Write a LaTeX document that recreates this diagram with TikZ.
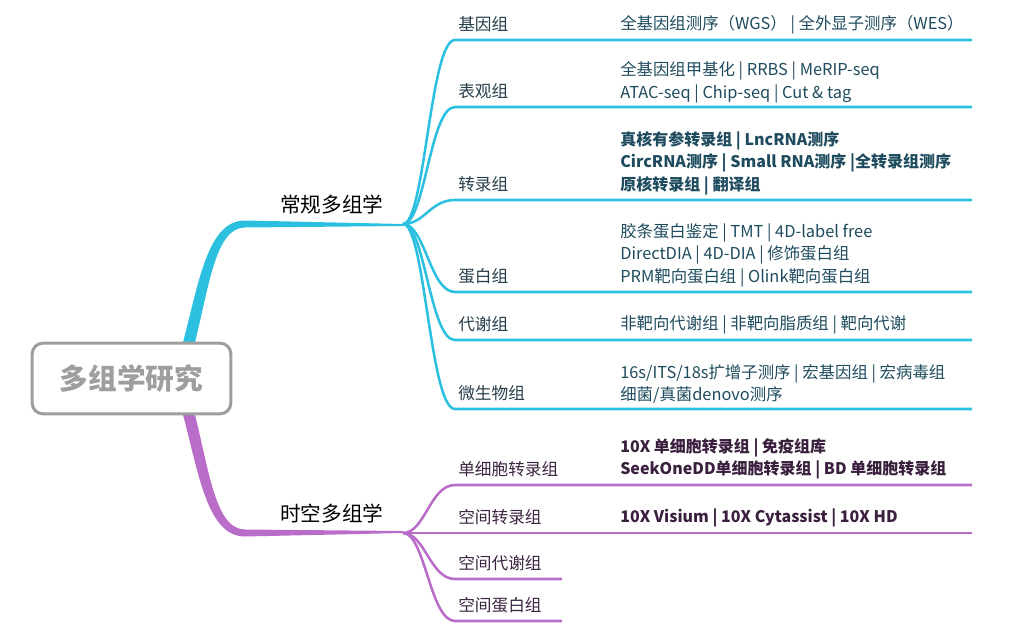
\documentclass[tikz,border=0pt]{standalone}
\usepackage{fontspec}
\setmainfont{Noto Sans CJK SC}
\usepackage{tikz}
\definecolor{cyanbr}{HTML}{2CC0E0}
\definecolor{magbr}{HTML}{B96CC8}
\definecolor{rootgray}{HTML}{9E9E9E}
\definecolor{cysub}{HTML}{263D4A}
\definecolor{cydet}{HTML}{1E4B5E}
\definecolor{mgsub}{HTML}{3B2440}
\definecolor{mgdet}{HTML}{3A1F3E}

\begin{document}
\begin{tikzpicture}[x=0.75pt,y=-0.75pt,
    rootbox/.style={draw=rootgray,line width=2.25pt,rounded corners=8pt,fill=white,
      minimum width=149pt,minimum height=53pt,text=rootgray,
      font=\fontsize{21.5}{24}\selectfont\bfseries},
    mainlbl/.style={anchor=south west,inner sep=0pt,font=\fontsize{15.5}{18}\selectfont},
    sublbl/.style={anchor=south west,inner sep=0pt,text=cysub,font=\fontsize{12.5}{15}\selectfont},
    detail/.style={anchor=south west,inner sep=0pt,align=left,text=cydet,
      font=\fontsize{12.3}{16.8}\selectfont},
    bolddet/.style={detail,font=\fontsize{12}{16.9}\selectfont\bfseries},
    cybr/.style={draw=cyanbr,line width=1.9pt},
    mgbr/.style={draw=magbr,line width=1.9pt}]
        \useasboundingbox (0,0) rectangle (1021,642);
        % trunks
        \coordinate (cfork) at (403,224);
        \coordinate (mfork) at (403,533);
        \fill [cyanbr] (182,346) .. controls (199,283) and (207,220.5) .. (245,220.5)
              -- (cfork) -- ++(0,2) -- (245,227.5) .. controls (215,227.5) and (209,288) .. (194,346) -- cycle;
        \fill [magbr] (182,411) .. controls (199,474) and (207,536.5) .. (245,536.5)
              -- (mfork) -- ++(0,-2) -- (245,529.5) .. controls (215,529.5) and (209,469) .. (194,411) -- cycle;
        \node [rootbox] (root) at (131.5,378.5) {多组学研究};
        \node [mainlbl] (conv) at (280,214) {常规多组学};
        \node [mainlbl] (spat) at (280,523) {时空多组学};
        % conventional omics
        \coordinate (genome-l) at (455,40);   \coordinate (genome-r) at (972,40);
        \coordinate (epig-l) at (455,107);    \coordinate (epig-r) at (972,107);
        \coordinate (trans-l) at (455,200);   \coordinate (trans-r) at (972,200);
        \coordinate (prot-l) at (455,292);    \coordinate (prot-r) at (972,292);
        \coordinate (metab-l) at (455,340);   \coordinate (metab-r) at (972,340);
        \coordinate (micro-l) at (455,409);   \coordinate (micro-r) at (972,409);
        \draw [cybr] (cfork) .. controls +(22,0) and +(-25,0) .. (genome-l) -- (genome-r);
        \draw [cybr] (cfork) .. controls +(22,0) and +(-25,0) .. (epig-l) -- (epig-r);
        \draw [cybr] (cfork) .. controls +(22,0) and +(-25,0) .. (trans-l) -- (trans-r);
        \draw [cybr] (cfork) .. controls +(22,0) and +(-25,0) .. (prot-l) -- (prot-r);
        \draw [cybr] (cfork) .. controls +(22,0) and +(-25,0) .. (metab-l) -- (metab-r);
        \draw [cybr] (cfork) .. controls +(22,0) and +(-25,0) .. (micro-l) -- (micro-r);
        \node [sublbl] (genome) at (458,32) {基因组};
        \node [sublbl] (epig) at (458,99) {表观组};
        \node [sublbl] (trans) at (458,192) {转录组};
        \node [sublbl] (prot) at (458,284) {蛋白组};
        \node [sublbl] (metab) at (458,332) {代谢组};
        \node [sublbl] (micro) at (458,401) {微生物组};
        \node [detail] (dgenome) at (620,34) {全基因组测序（WGS） | 全外显子测序（WES）};
        \node [detail] (depig) at (620,103) {全基因组甲基化 | RRBS | MeRIP-seq\\ATAC-seq | Chip-seq | Cut \& tag};
        \node [bolddet] (dtrans) at (620,195)
              {真核有参转录组 | LncRNA测序\\CircRNA测序 | Small RNA测序 |全转录组测序\\原核转录组 | 翻译组};
        \node [detail] (dprot) at (620,287) {胶条蛋白鉴定 | TMT | 4D-label free\\DirectDIA | 4D-DIA | 修饰蛋白组\\PRM靶向蛋白组 | Olink靶向蛋白组};
        \node [detail] (dmetab) at (620,334) {非靶向代谢组 | 非靶向脂质组 | 靶向代谢};
        \node [detail] (dmicro) at (620,404) {16s/ITS/18s扩增子测序 | 宏基因组 | 宏病毒组\\细菌/真菌denovo测序};
        % spatio-temporal omics
        \coordinate (sc-l) at (455,485);      \coordinate (sc-r) at (972,485);
        \coordinate (sptr-r) at (972,533);
        \coordinate (spmet-l) at (455,579);   \coordinate (spmet-r) at (562,579);
        \coordinate (spprot-l) at (455,621);  \coordinate (spprot-r) at (562,621);
        \draw [mgbr] (mfork) .. controls +(22,0) and +(-25,0) .. (sc-l) -- (sc-r);
        \draw [mgbr] (mfork) -- (sptr-r);
        \draw [mgbr] (mfork) .. controls +(22,0) and +(-25,0) .. (spmet-l) -- (spmet-r);
        \draw [mgbr] (mfork) .. controls +(22,0) and +(-25,0) .. (spprot-l) -- (spprot-r);
        \node [sublbl,text=mgsub] (sc) at (458,477) {单细胞转录组};
        \node [sublbl,text=mgsub] (sptr) at (458,525) {空间转录组};
        \node [sublbl,text=mgsub] (spmet) at (458,571) {空间代谢组};
        \node [sublbl,text=mgsub] (spprot) at (458,613) {空间蛋白组};
        \node [bolddet,text=mgdet,font=\fontsize{12}{16.5}\selectfont\bfseries] (dsc) at (620,479)
              {10X 单细胞转录组 | 免疫组库\\SeekOneDD单细胞转录组 | BD 单细胞转录组};
        \node [bolddet,text=mgdet] (dsptr) at (620,527)
              {10X Visium | 10X Cytassist | 10X HD};
\end{tikzpicture}
\end{document}
